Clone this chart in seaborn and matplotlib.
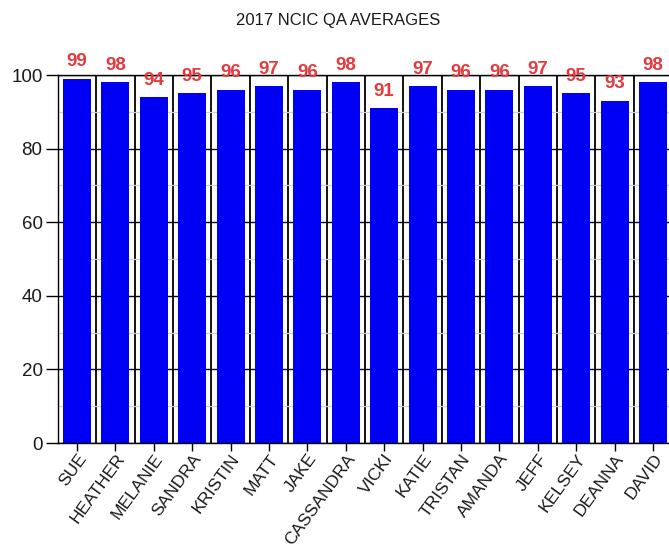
import numpy as np
import pandas as pd
import matplotlib
matplotlib.use("Agg")
import matplotlib.pyplot as plt
import seaborn as sns
from matplotlib.ticker import MultipleLocator, FixedLocator

names = ["SUE", "HEATHER", "MELANIE", "SANDRA", "KRISTIN", "MATT", "JAKE",
         "CASSANDRA", "VICKI", "KATIE", "TRISTAN", "AMANDA", "JEFF", "KELSEY",
         "DEANNA", "DAVID"]
scores = [99, 98, 94, 95, 96, 97, 96, 98, 91, 97, 96, 96, 97, 95, 93, 98]
title = "2017 NCIC QA AVERAGES"

sns.set_theme(style="white")
plt.rcParams['font.family'] = ['Liberation Sans', 'DejaVu Sans']

df = pd.DataFrame({"name": names, "score": scores})

fig = plt.figure(figsize=(6.69, 5.53), dpi=100)
W, H = 669, 553
left, right, top, bottom = 57.8, 672.2, 75, 443
ax = fig.add_axes([left / W, 1 - bottom / H, (right - left) / W, (bottom - top) / H])

sns.barplot(data=df, x="name", y="score", color="#0000f5", saturation=1,
            width=0.73, ax=ax, edgecolor="none")

n = len(names)
ax.set_xlim(-0.5, n - 0.5)
ax.set_ylim(0, 100)
ax.yaxis.set_major_locator(MultipleLocator(20))
ax.yaxis.set_minor_locator(MultipleLocator(10))
ax.xaxis.set_minor_locator(FixedLocator(np.arange(-0.5, n, 1.0)))
ax.set_axisbelow(True)
ax.yaxis.grid(True, which="major", color="black", lw=1.0)
ax.yaxis.grid(True, which="minor", color="#d0d0d0", lw=0.9)
ax.xaxis.grid(True, which="minor", color="black", lw=1.3)
ax.xaxis.grid(False, which="major")

for s in ax.spines.values():
    s.set_color("black")
    s.set_linewidth(1.0)

ax.tick_params(axis="y", which="major", length=9, width=1, color="black",
               labelsize=13.5, labelcolor="#1a1a1a", pad=2, left=True)
ax.tick_params(axis="x", which="major", length=6, width=1, color="black",
               labelsize=12.5, labelcolor="#1a1a1a", pad=0, bottom=True)
ax.tick_params(which="minor", length=0)

plt.setp(ax.get_xticklabels(), rotation=54, ha="right", rotation_mode="anchor")
ax.set_xlabel("")
ax.set_ylabel("")

ax.bar_label(ax.containers[0], color="#e23a3e", fontweight="bold",
             fontsize=13.5, padding=6)

fig.text(338 / W, 1 - 21 / H, title, ha="center", va="center",
         fontsize=12, color="#1a1a1a")

fig.savefig("out.png", dpi=100)
